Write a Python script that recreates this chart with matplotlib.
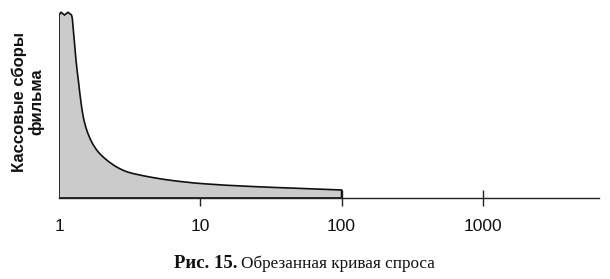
import matplotlib
matplotlib.use("Agg")
import matplotlib.pyplot as plt
import numpy as np
from matplotlib.path import Path
from matplotlib.patches import PathPatch

# Data: truncated demand curve (film rank, log scale) vs. box office (arbitrary units)
# jagged "break" at the top of the first bar
break_rank = [1.0, 1.033, 1.094, 1.158, 1.226]
break_value = [183, 185.7, 183, 185.7, 183]
# the smooth demand curve
rank = [1.242, 1.319, 1.370, 1.424, 1.486, 1.571, 1.704, 1.897, 2.176, 2.561,
        3.093, 4.175, 6.104, 10.45, 22.5, 46.8, 100.0]
box_office = [179.7, 138, 118, 98, 81, 68, 56, 46, 38, 31,
              25.8, 21.6, 17.8, 14.3, 11.6, 9.8, 8]
tick_values = [1, 10, 100, 1000]
tick_labels = ["1", "10", "100", "1000"]
ylabel = "Кассовые сборы\nфильма"
caption_bold = "Рис. 15."
caption_rest = "Обрезанная кривая спроса"

W, H = 610, 279
DEC = 141.3  # pixels per decade (layout)
fig = plt.figure(figsize=(W / 100, H / 100), dpi=100)

x0_px, x1_px = 59, 599
base_px, top_px = 198, 5
ax = fig.add_axes([x0_px / W, (H - base_px) / H, (x1_px - x0_px) / W, (base_px - top_px) / H])
ax.set_xscale("log")
xmax = 10 ** ((x1_px - x0_px) / DEC)
ax.set_xlim(1, xmax)
ax.set_ylim(0, base_px - top_px)

# Outline path; the curve is drawn as a Catmull-Rom spline through the data points
u = np.log10(np.array(rank)) * DEC
v = np.array(box_office, dtype=float)
P = np.column_stack([u, v])
verts = [(break_rank[0], 0.0)]
codes = [Path.MOVETO]
for bx, by in zip(break_rank, break_value):
    verts.append((bx, by)); codes.append(Path.LINETO)
verts.append((rank[0], box_office[0])); codes.append(Path.LINETO)
n = len(P)
for i in range(n - 1):
    p1, p2 = P[i], P[i + 1]
    p0 = P[i - 1] if i > 0 else p1 - (p2 - p1) * np.array([0.2, 0.0])
    p3 = P[i + 2] if i + 2 < n else p2 + (p2 - p1)
    c1 = p1 + (p2 - p0) / 6.0
    c2 = p2 - (p3 - p1) / 6.0
    for c in (c1, c2, p2):
        verts.append((10 ** (c[0] / DEC), c[1]))
        codes.append(Path.CURVE4)
verts.append((rank[-1], 0.0)); codes.append(Path.LINETO)
verts.append((break_rank[0], 0.0)); codes.append(Path.CLOSEPOLY)

patch = PathPatch(Path(verts, codes), facecolor="#cbcbcb", edgecolor="#111111",
                  linewidth=1.2, joinstyle="miter", zorder=2)
ax.add_patch(patch)

for s in ["top", "left", "right"]:
    ax.spines[s].set_visible(False)
ax.spines["bottom"].set_linewidth(1.0)
ax.spines["bottom"].set_color("#222222")
ax.spines["bottom"].set_zorder(3)

ax.set_yticks([])
ax.set_xticks(tick_values)
ax.set_xticklabels(tick_labels, fontfamily="Liberation Sans", fontsize=12.5, color="#111111")
ax.xaxis.set_minor_locator(matplotlib.ticker.NullLocator())
ax.tick_params(axis="x", direction="inout", length=12, width=1.0, color="#222222", pad=9)
ax.xaxis.get_major_ticks()[0].tick1line.set_visible(False)

fig.text(28 / W, 1 - 101.5 / H, ylabel, rotation=90, ha="center", va="center",
         multialignment="center", fontfamily="Liberation Sans", fontweight="bold",
         fontsize=12, linespacing=1.05, color="#111111")

fig.text(238 / W, 1 - 268 / H, caption_bold, ha="right", va="baseline",
         fontfamily="Liberation Serif", fontweight="bold", fontsize=13.5, color="#111111")
fig.text(241 / W, 1 - 268 / H, caption_rest, ha="left", va="baseline",
         fontfamily="Liberation Serif", fontsize=12.3, color="#111111")

fig.savefig("out.png", dpi=100)
